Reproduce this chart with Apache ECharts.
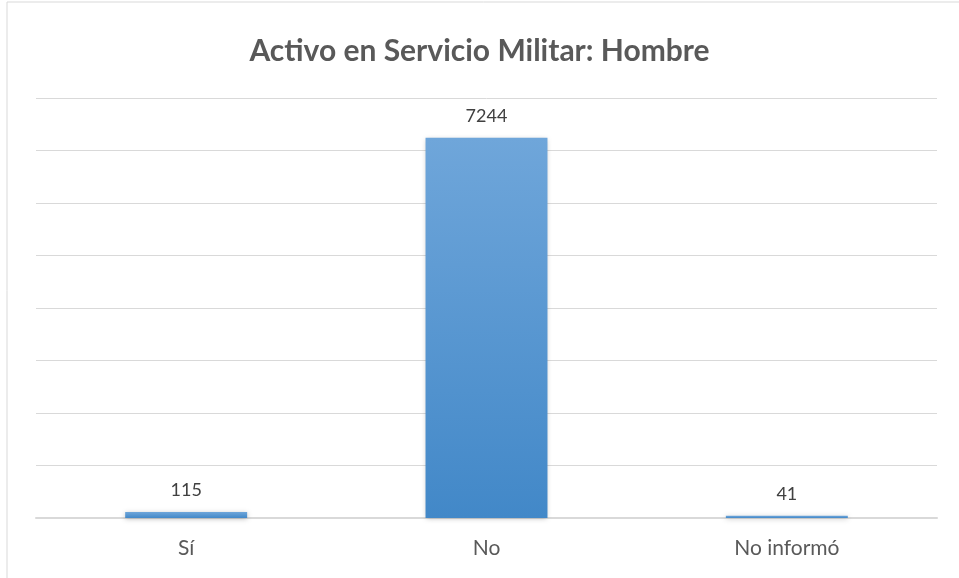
<!DOCTYPE html>
<html>
<head>
<meta charset="utf-8">
<script src="https://cdn.jsdelivr.net/npm/echarts@6/dist/echarts.min.js"></script>
<style>
html, body { margin: 0; padding: 0; background: #fff; }
#chart { width: 959px; height: 578px; }
</style>
</head>
<body>
<div id="chart"></div>
<script>
var categories = ['Sí', 'No', 'No informó'];
var values = [115, 7244, 41];

var chart = echarts.init(document.getElementById('chart'));
var option = {
    title: {
        text: 'Activo en Servicio Militar: Hombre',
        left: 'center',
        top: 31,
        textStyle: {
            fontFamily: 'Lato',
            fontSize: 30,
            fontWeight: 'bold',
            color: '#595959'
        }
    },
    graphic: [{
        type: 'rect',
        shape: { x: 7, y: 2, width: 960, height: 590 },
        style: { fill: 'none', stroke: '#d9d9d9', lineWidth: 1 }
    }],
    grid: {
        left: 36,
        right: 22,
        top: 98,
        bottom: 60
    },
    xAxis: {
        type: 'category',
        data: categories,
        axisLine: { lineStyle: { color: '#d9d9d9', width: 2 } },
        axisTick: { show: false },
        axisLabel: {
            fontFamily: 'Lato',
            fontSize: 21,
            color: '#595959',
            margin: 20
        }
    },
    yAxis: {
        type: 'value',
        min: 0,
        max: 8000,
        interval: 1000,
        axisLabel: { show: false },
        axisLine: { show: false },
        axisTick: { show: false },
        splitLine: { lineStyle: { color: '#d9d9d9', width: 1 } }
    },
    series: [{
        type: 'bar',
        data: values,
        barWidth: '40.6%',
        itemStyle: {
            color: new echarts.graphic.LinearGradient(0, 0, 0, 1, [
                { offset: 0, color: '#6fa6da' },
                { offset: 1, color: '#4288c8' }
            ]),
            shadowColor: 'rgba(0,0,0,0.25)',
            shadowBlur: 5,
            shadowOffsetY: 1
        },
        label: {
            show: true,
            position: 'top',
            distance: 13,
            fontFamily: 'Lato',
            fontSize: 18,
            color: '#404040'
        }
    }]
};
chart.setOption(option);
</script>
</body>
</html>
